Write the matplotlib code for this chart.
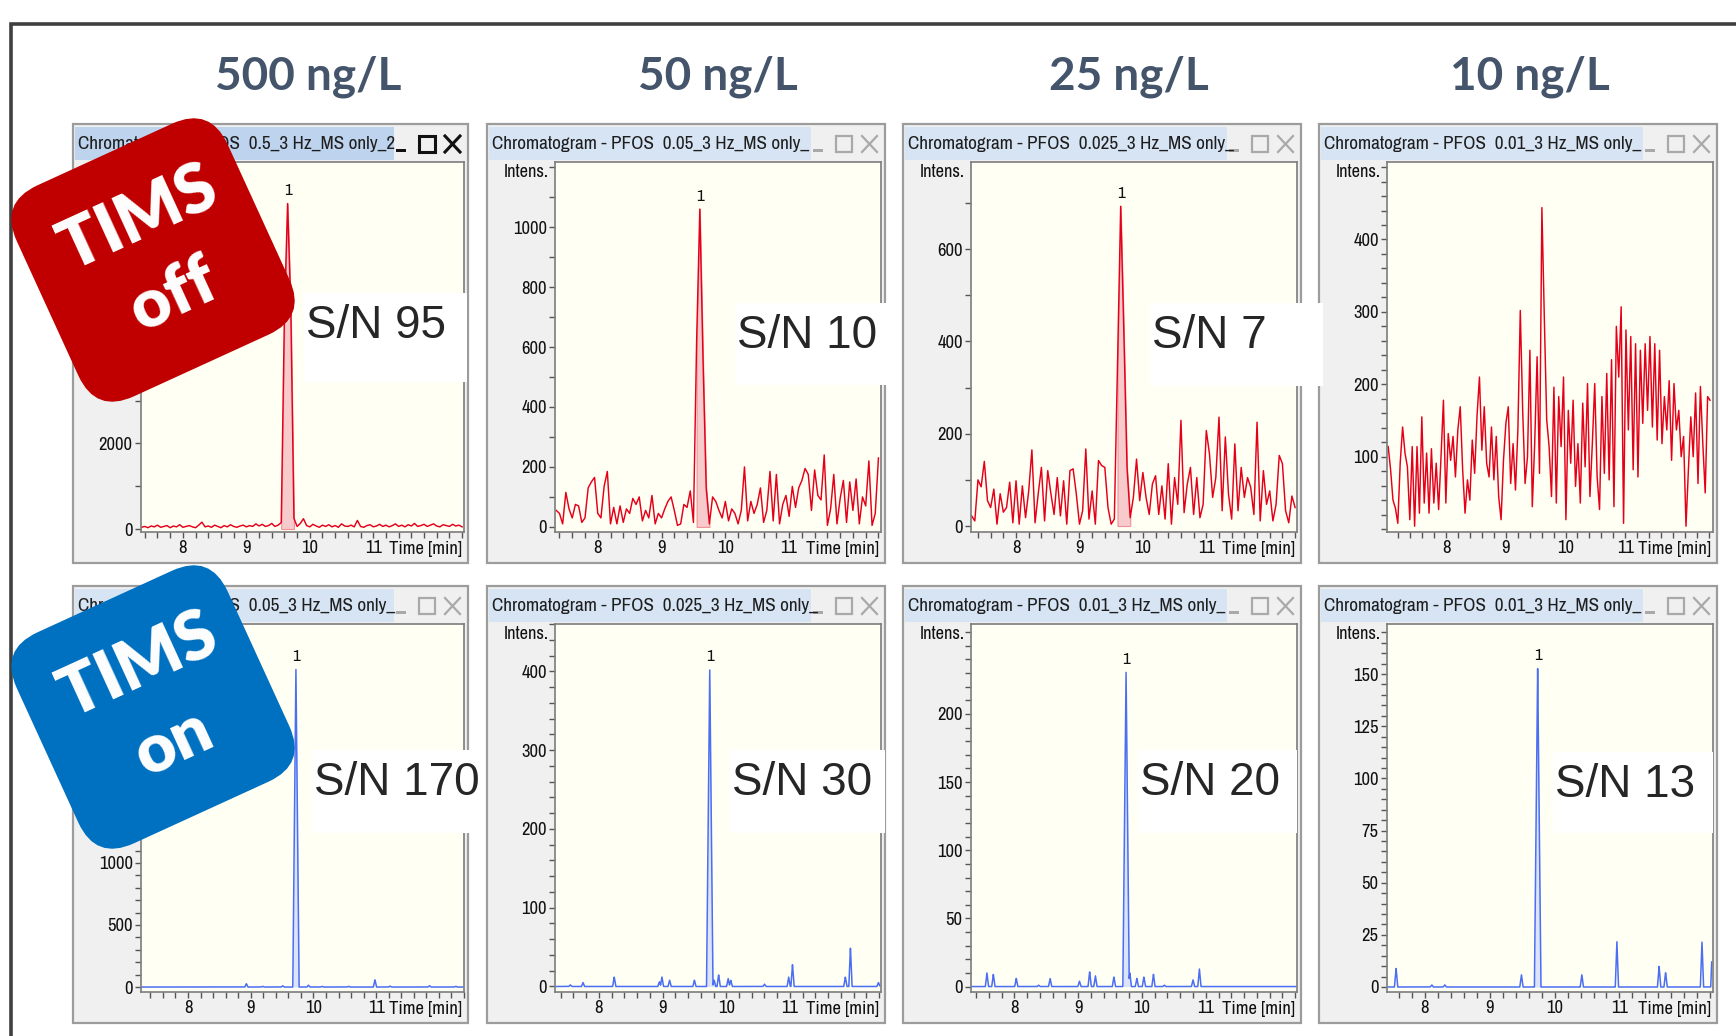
import numpy as np
import matplotlib
matplotlib.use('Agg')
import matplotlib.pyplot as plt
from matplotlib import font_manager as fm
from matplotlib.font_manager import FontProperties
from matplotlib.patches import Rectangle, FancyBboxPatch
from matplotlib.ticker import MultipleLocator
from matplotlib.transforms import Affine2D

W, H = 1736, 1036


# narrow font for the software screenshots (falls back to Roboto)
def pick_narrow():
    best, best_rank = None, 99
    for f in fm.fontManager.ttflist:
        low = f.fname.lower()
        if f.style != 'normal' or f.weight not in (400, 'normal', 'regular'):
            continue
        if 'narrow' in low:
            rank = 0
        elif 'condensed' in low and 'semi' not in low and 'extra' not in low and 'ultra' not in low:
            rank = 1
        elif 'semicondensed' in low:
            rank = 2
        else:
            continue
        if rank < best_rank:
            best, best_rank = f.fname, rank
    return best or fm.findfont('Roboto')


NARROW_FILE = pick_narrow()
HEAD = ['Lato', 'DejaVu Sans']
ARIAL = ['Liberation Sans', 'DejaVu Sans']


def FP(size):
    return FontProperties(fname=NARROW_FILE, size=size)


# ---------------- data ----------------
concentrations = ['500 ng/L', '50 ng/L', '25 ng/L', '10 ng/L']

titles_off = ['Chromatogram - PFOS  0.5_3 Hz_MS only_2',
              'Chromatogram - PFOS  0.05_3 Hz_MS only_',
              'Chromatogram - PFOS  0.025_3 Hz_MS only_',
              'Chromatogram - PFOS  0.01_3 Hz_MS only_']
titles_on = ['Chromatogram - PFOS  0.05_3 Hz_MS only_',
             'Chromatogram - PFOS  0.025_3 Hz_MS only_',
             'Chromatogram - PFOS  0.01_3 Hz_MS only_',
             'Chromatogram - PFOS  0.01_3 Hz_MS only_']

sn_off = ['S/N 95', 'S/N 10', 'S/N 7', None]
sn_on = ['S/N 170', 'S/N 30', 'S/N 20', 'S/N 13']

# TIMS off: intensity traces on an even time grid (start, end)
off_500 = [40, 60, 30, 70, 50, 90, 40, 60, 80, 30,
           70, 50, 100, 40, 60, 80, 50, 30, 90, 160,
           50, 70, 40, 90, 60, 30, 80, 50, 100, 60,
           40, 70, 90, 50, 80, 60, 120, 70, 110, 60,
           80, 130, 60, 90, 150, 5000, 7600, 5200, 250, 60,
           130, 240, 80, 50, 110, 70, 40, 90, 60, 100,
           50, 80, 40, 120, 70, 60, 90, 50, 200, 60,
           40, 80, 100, 50, 70, 110, 60, 90, 50, 80,
           120, 60, 90, 50, 100, 70, 130, 60, 80, 110,
           60, 90, 120, 70, 50, 100, 80, 60, 110, 70,
           90, 50]
off_500_time = (7.35, 12.40)

off_50 = [55, 45, 10, 115, 60, 30, 75, 70, 15, 30,
          130, 150, 165, 45, 30, 135, 185, 10, 65, 10,
          70, 15, 60, 45, 95, 75, 100, 20, 55, 30,
          105, 10, 45, 30, 60, 85, 100, 55, 5, 10,
          75, 65, 120, 15, 620, 1060, 560, 130, 10, 100,
          85, 55, 30, 85, 20, 60, 45, 10, 55, 200,
          20, 85, 45, 75, 130, 15, 55, 185, 20, 175,
          10, 75, 105, 35, 135, 65, 130, 155, 195, 175,
          55, 190, 105, 90, 240, 5, 60, 175, 10, 95,
          155, 15, 150, 55, 160, 10, 100, 70, 220, 5,
          45, 230]
off_50_time = (7.35, 12.40)

off_25 = [22, 11, 100, 85, 140, 55, 40, 80, 4, 70,
          30, 40, 95, 7, 98, 4, 87, 18, 76, 165,
          7, 70, 127, 11, 120, 70, 25, 105, 22, 98,
          4, 120, 124, 70, 4, 33, 167, 15, 76, 4,
          142, 131, 127, 40, 4, 15, 350, 693, 420, 127,
          18, 62, 145, 55, 116, 62, 25, 91, 109, 25,
          87, 15, 135, 4, 105, 47, 229, 29, 91, 127,
          25, 105, 18, 47, 207, 156, 62, 105, 236, 33,
          193, 69, 15, 178, 33, 127, 62, 105, 84, 25,
          225, 11, 120, 47, 76, 11, 47, 153, 135, 33,
          7, 65, 40]
off_25_time = (7.30, 12.40)

off_10 = [114, 82, 40, 29, 8, 91, 141, 105, 86, 13,
          114, 4, 114, 22, 155, 36, 105, 22, 111, 36,
          91, 27, 100, 178, 36, 132, 95, 128, 72, 137,
          169, 82, 22, 68, 40, 123, 77, 157, 210, 109,
          169, 91, 72, 141, 68, 128, 45, 13, 95, 146,
          169, 63, 118, 54, 137, 302, 164, 63, 100, 247,
          31, 118, 238, 77, 444, 293, 151, 114, 45, 196,
          36, 183, 114, 210, 13, 164, 91, 178, 59, 118,
          36, 174, 86, 201, 45, 118, 201, 72, 27, 183,
          77, 215, 68, 234, 31, 280, 210, 307, 8, 275,
          137, 266, 82, 256, 72, 247, 146, 256, 164, 266,
          141, 256, 123, 247, 118, 183, 137, 205, 95, 201,
          137, 164, 100, 128, 4, 82, 155, 100, 188, 63,
          197, 118, 50, 183, 178]
off_10_time = (7.03, 12.42)

off_traces = [off_500, off_50, off_25, off_10]
off_times = [off_500_time, off_50_time, off_25_time, off_10_time]
off_integration = [(9.55, 9.75), (9.53, 9.78), (9.57, 9.82), None]

# TIMS on: peaks (retention time [min], intensity)
on_500_rt = [8.93, 9.19, 9.51, 9.72, 9.92, 10.14, 10.56, 10.98, 11.22, 11.85, 12.27]
on_500_int = [27, 6, 10, 2569, 15, 5, 6, 59, 8, 10, 6]
on_50_rt = [7.55, 7.75, 8.24, 8.95, 8.99, 9.11, 9.50, 9.74, 9.81, 9.88, 10.03, 10.07,
            10.60, 10.98, 11.04, 11.87, 11.95, 12.39]
on_50_int = [2, 5, 12, 6, 12, 8, 8, 405, 8, 15, 10, 8, 3, 12, 28, 12, 50, 5]
on_25_rt = [7.57, 7.67, 8.03, 8.38, 8.56, 9.02, 9.18, 9.27, 9.56, 9.75, 9.81, 9.92,
            10.03, 10.18, 10.35, 10.80, 10.90]
on_25_int = [10, 9, 6, 1, 6, 4, 11, 8, 7, 234, 10, 6, 7, 9, 1, 5, 13]
on_10_rt = [7.56, 8.11, 8.31, 9.49, 9.74, 10.42, 10.96, 11.61, 11.71, 12.27, 12.43]
on_10_int = [9, 1, 1, 6, 153, 6, 22, 10, 7, 22, 20]

on_rts = [on_500_rt, on_50_rt, on_25_rt, on_10_rt]
on_ints = [on_500_int, on_50_int, on_25_int, on_10_int]
on_integration = [(9.64, 9.80), (9.66, 9.82), (9.67, 9.83), (9.66, 9.82)]

# axis ranges and y ticks: (major step, minor step, first label, last label)
xlim_off = [(7.34, 12.43), (7.33, 12.44), (7.29, 12.43), (7.01, 12.47)]
ylim_off = [(-70, 8570), (-17, 1217), (-13, 789), (-4, 507)]
ystep_off = [(2000, 1000, 0, 8000), (200, 100, 0, 1000), (200, 100, 0, 600), (100, 20, 100, 400)]
xlim_on = [(7.25, 12.40), (7.31, 12.43), (7.32, 12.43), (7.42, 12.44)]
ylim_on = [(-40, 2925), (-7, 460), (-4, 266), (-2.4, 174)]
ystep_on = [(500, 100, 0, 2500), (100, 20, 0, 400), (50, 10, 0, 200), (25, 5, 0, 150)]

# ---------------- layout ----------------
col_x = [73, 487, 903, 1319]
col_w = [395, 398, 398, 398]
row_y = [124, 586]
row_h = [439, 437]
title_x = [308, 718, 1129, 1530]
sn_box_off = [(304, 293, 467, 382), (735, 303, 890, 385), (1150, 303, 1323, 386), None]
sn_box_on = [(312, 750, 482, 833), (730, 750, 885, 833), (1138, 750, 1297, 833), (1553, 752, 1713, 833)]

RED = '#E5001A'
BLUE = '#4B6EF2'

fig = plt.figure(figsize=(W / 100, H / 100), dpi=100)
fig.patch.set_facecolor('white')
renderer = fig.canvas.get_renderer()


def fit(s, target, size0=20.0):
    t = fig.text(0, 0, s, fontproperties=FP(size0))
    w = t.get_window_extent(renderer).width
    t.remove()
    return size0 * target / w


title_size = fit('Chromatogram - PFOS  0.05_3 Hz_MS only_', 318)
tick_size = min(14.0, fit('1000', 34))
time_size = min(13.5, fit('Time [min]', 73))
intens_size = min(13.5, fit('Intens.', 45))

bg = fig.add_axes([0, 0, 1, 1])
bg.set_xlim(0, W)
bg.set_ylim(H, 0)
bg.axis('off')

# outer frame
bg.plot([11, 11, W], [H, 24, 24], color='#3F3F3F', lw=2.6, solid_joinstyle='miter')

for x, lab in zip(title_x, concentrations):
    bg.text(x, 77, lab, ha='center', va='center', fontsize=33, fontweight='bold',
            color='#44546A', family=HEAD)


def window(x, y, w, h, title, active):
    bg.add_patch(Rectangle((x, y), w, h, fc='#F0F0F0', ec='#9C9C9C', lw=1.6))
    bar = Rectangle((x + 2, y + 3), w * 0.808, 33, fc='#BDD3EE' if active else '#D6E4F4', ec='none')
    bg.add_patch(bar)
    t = bg.text(x + 5, y + 20, title, fontproperties=FP(title_size), va='center', color='#1E1E1E')
    t.set_clip_path(bar)
    c = '#111111' if active else '#A9A9A9'
    lw = 2.2 if active else 1.6
    bg.add_patch(Rectangle((x + w - 72, y + 25), 10, 3, fc=c, ec='none'))
    bg.add_patch(Rectangle((x + w - 49, y + 12), 16, 16, fc='none', ec=c, lw=lw))
    bg.plot([x + w - 23, x + w - 8], [y + 12, y + 28], color=c, lw=lw)
    bg.plot([x + w - 23, x + w - 8], [y + 28, y + 12], color=c, lw=lw)


def chrom_axes(x, y, w, h, xlim, ylim, ystep):
    l, r = x + 68, x + w - 4
    t, b = y + 38, y + h - 31
    ax = fig.add_axes([l / W, 1 - b / H, (r - l) / W, (b - t) / H], facecolor='#FFFFF4')
    ax.set_xlim(*xlim)
    ax.set_ylim(*ylim)
    major, minor, first, last = ystep
    ax.set_yticks(np.arange(first, last + major / 2, major))
    ax.yaxis.set_minor_locator(MultipleLocator(minor))
    ax.set_xticks([8, 9, 10, 11])
    ax.xaxis.set_minor_locator(MultipleLocator(0.2))
    for s in ax.spines.values():
        s.set_color('#7C7C7C')
        s.set_linewidth(1.2)
    ax.tick_params(which='both', direction='out', length=4, width=1, colors='#555555',
                   labelcolor='#111111', pad=2)
    for lbl in ax.get_xticklabels() + ax.get_yticklabels():
        lbl.set_fontproperties(FP(tick_size))
    bg.text(l - 6, t + 10, 'Intens.', ha='right', va='center', fontproperties=FP(intens_size),
            color='#111111')
    bg.text(r - 2, b + 17, 'Time [min]', ha='right', va='center', fontproperties=FP(time_size),
            color='#111111')
    return ax


def peak_label(ax, t, y):
    i = int(np.argmax(y))
    ax.annotate('1', (t[i], y[i]), xytext=(0, 4), textcoords='offset points',
                ha='center', va='bottom', fontproperties=FP(tick_size * 0.92), color='#111111')


# top row: TIMS off
for k in range(4):
    x, y, w, h = col_x[k], row_y[0], col_w[k], row_h[0]
    window(x, y, w, h, titles_off[k], active=(k == 0))
    ax = chrom_axes(x, y, w, h, xlim_off[k], ylim_off[k], ystep_off[k])
    vals = np.array(off_traces[k], dtype=float)
    t = np.linspace(off_times[k][0], off_times[k][1], len(vals))
    if off_integration[k] is not None:
        a, b = off_integration[k]
        m = (t >= a) & (t <= b)
        ax.fill_between(t[m], 0, vals[m], color='#F7CACC', lw=0.8, edgecolor='#F19097')
        peak_label(ax, t, vals)
    ax.plot(t, vals, color=RED, lw=1.05)

# bottom row: TIMS on
for k in range(4):
    x, y, w, h = col_x[k], row_y[1], col_w[k], row_h[1]
    window(x, y, w, h, titles_on[k], active=False)
    ax = chrom_axes(x, y, w, h, xlim_on[k], ylim_on[k], ystep_on[k])
    t = np.linspace(xlim_on[k][0] + 0.02, xlim_on[k][1] - 0.02, 3000)
    sig = np.zeros_like(t)
    top = max(on_ints[k])
    for rt, hh in zip(on_rts[k], on_ints[k]):
        hw = 0.05 if hh == top else 0.025
        sig = np.maximum(sig, np.interp(t, [rt - hw, rt, rt + hw], [0, hh, 0], left=0, right=0))
    a, b = on_integration[k]
    m = (t >= a) & (t <= b)
    ax.fill_between(t[m], 0, sig[m], color='#DCE4FB', lw=0)
    ax.plot(t, sig, color=BLUE, lw=1.1)
    peak_label(ax, t, sig)

# overlay: S/N boxes and TIMS badges
ov = fig.add_axes([0, 0, 1, 1])
ov.set_zorder(10)
ov.set_xlim(0, W)
ov.set_ylim(H, 0)
ov.axis('off')

for box, lab in list(zip(sn_box_off, sn_off)) + list(zip(sn_box_on, sn_on)):
    if box is None:
        continue
    x0, y0, x1, y1 = box
    ov.add_patch(Rectangle((x0, y0), x1 - x0, y1 - y0, fc='white', ec='none'))
    ov.text(x0 + 2, y0 + 33, lab, ha='left', va='center', fontsize=33, color='#262626',
            family=ARIAL)


def badge(cx, cy, color, label):
    s, r = 232, 42
    p = FancyBboxPatch((cx - s / 2 + r, cy - s / 2 + r), s - 2 * r, s - 2 * r,
                       boxstyle=f'round,pad={r},rounding_size={r}', fc=color, ec='none')
    p.set_transform(Affine2D().rotate_deg_around(cx, cy, -24.6) + ov.transData)
    ov.add_patch(p)
    ov.text(cx + 3, cy - 2, label, rotation=24.6, rotation_mode='anchor', ha='center', va='center',
            multialignment='center', color='white', fontsize=49, fontweight='heavy',
            family=HEAD, linespacing=1.42)


badge(153, 260, '#C00000', 'TIMS\noff')
badge(153, 707, '#0070C0', 'TIMS\non')

fig.savefig('out.png', dpi=100)
